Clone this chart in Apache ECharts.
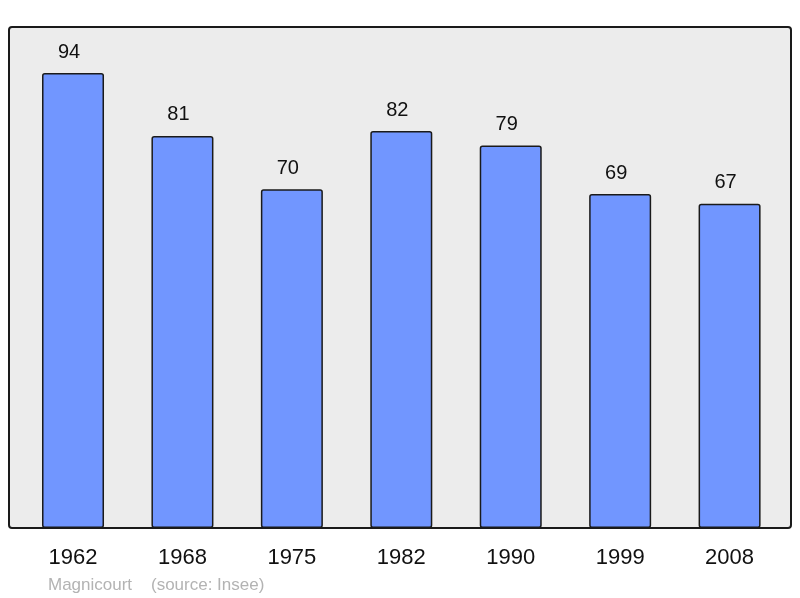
<!DOCTYPE html>
<html>
<head>
<meta charset="utf-8">
<script src="https://cdn.jsdelivr.net/npm/echarts@6/dist/echarts.min.js"></script>
<style>
	html, body { margin: 0; padding: 0; background: #fff; }
	#chart { width: 800px; height: 598px; }
</style>
</head>
<body>
<div id="chart"></div>
<script>
// années du recensement et population
var years = ['1962', '1968', '1975', '1982', '1990', '1999', '2008'];
var population = [94, 81, 70, 82, 79, 69, 67];
var townName = 'Magnicourt';
var sourceText = '(source: Insee)';

var myChart = echarts.init(document.getElementById('chart'));

var option = {
	backgroundColor: '#ffffff',
	animation: false,
	// cadre gris derrière les barres
	graphic: [{
		type: 'rect',
		z: -10,
		shape: { x: 9, y: 27, width: 782, height: 501, r: 3 },
		style: { fill: '#ececec', stroke: '#1a1a1a', lineWidth: 2 }
	}, {
		type: 'text',
		left: 48,
		top: 577,
		style: {
			text: townName + '    ' + sourceText,
			fill: '#b3b3b3',
			font: '17px "Liberation Sans", Arial, sans-serif'
		}
	}],
	grid: { left: 18.3, right: 15.7, top: 27, bottom: 70 },
	xAxis: {
		type: 'category',
		data: years,
		axisLine: { show: false },
		axisTick: { show: false },
		axisLabel: {
			margin: 19,
			fontSize: 22,
			color: '#111',
			fontFamily: '"Liberation Sans", Arial, sans-serif'
		}
	},
	yAxis: {
		type: 'value',
		min: 0,
		max: 103.5,
		show: false,
		splitLine: { show: false }
	},
	series: [{
		type: 'bar',
		data: population,
		barWidth: 62,
		itemStyle: {
			color: '#7196ff',
			borderColor: '#1a1a1a',
			borderWidth: 1.5,
			borderRadius: 2
		},
		label: {
			show: true,
			position: 'top',
			distance: 11,
			offset: [-4, 0],
			fontSize: 20,
			color: '#111',
			fontFamily: '"Liberation Sans", Arial, sans-serif'
		}
	}]
};

myChart.setOption(option);
</script>
</body>
</html>
